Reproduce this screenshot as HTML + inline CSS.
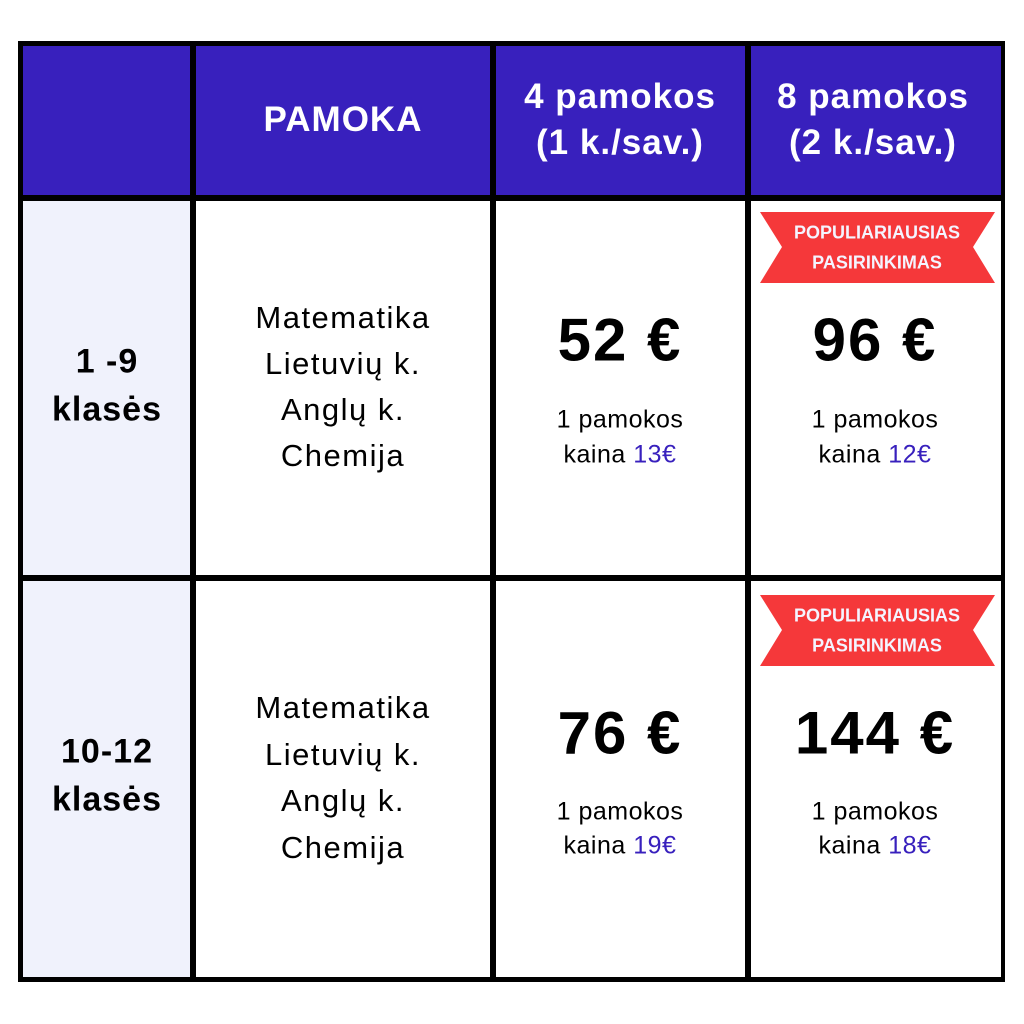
<!DOCTYPE html>
<html><head><meta charset="utf-8"><style>
body{margin:0;width:1024px;height:1024px;background:#fff;position:relative;font-family:"Liberation Sans",sans-serif;overflow:hidden}
.b{position:absolute;background:#000;left:18px;top:41px;width:987px;height:941px}
.c{position:absolute}
.t{position:absolute;text-align:center;white-space:nowrap;transform:translate(-50%,-50%);color:#000}
.h{color:#fff;font-weight:bold;font-size:35px;letter-spacing:1px}
.p{font-weight:bold;font-size:60px;letter-spacing:2px}
.s{font-size:31px;letter-spacing:1.5px}
.k{font-weight:bold;font-size:34px;letter-spacing:1px}
.m{font-size:25px;letter-spacing:0.5px}
.m span{color:#3820BD}
.r{color:#f4f4ff;font-weight:bold;font-size:18px}
</style></head><body>
<div class="b"></div>
<div class="c" style="left:23px;top:46px;width:167px;height:149px;background:#3820BD"></div>
<div class="c" style="left:196px;top:46px;width:294px;height:149px;background:#3820BD"></div>
<div class="c" style="left:496px;top:46px;width:249px;height:149px;background:#3820BD"></div>
<div class="c" style="left:751px;top:46px;width:250px;height:149px;background:#3820BD"></div>
<div class="c" style="left:23px;top:201px;width:167px;height:374px;background:#F0F2FC"></div>
<div class="c" style="left:196px;top:201px;width:294px;height:374px;background:#fff"></div>
<div class="c" style="left:496px;top:201px;width:249px;height:374px;background:#fff"></div>
<div class="c" style="left:751px;top:201px;width:250px;height:374px;background:#fff"></div>
<div class="c" style="left:23px;top:581px;width:167px;height:396px;background:#F0F2FC"></div>
<div class="c" style="left:196px;top:581px;width:294px;height:396px;background:#fff"></div>
<div class="c" style="left:496px;top:581px;width:249px;height:396px;background:#fff"></div>
<div class="c" style="left:751px;top:581px;width:250px;height:396px;background:#fff"></div>
<svg style="position:absolute;left:0;top:0" width="1024" height="1024">
<polygon points="760,212 995,212 973,247 995,283 760,283 782,247" fill="#F5383A"/>
<polygon points="760,595 995,595 973,630 995,666 760,666 782,630" fill="#F5383A"/>
</svg>
<div class="t h" style="left:620px;top:97px">4 pamokos</div>
<div class="t h" style="left:343px;top:120px">PAMOKA</div>
<div class="t h" style="left:620px;top:143px">(1 k./sav.)</div>
<div class="t h" style="left:873px;top:97px">8 pamokos</div>
<div class="t h" style="left:873px;top:143px">(2 k./sav.)</div>

<div class="t k" style="left:107px;top:362px">1 -9</div>
<div class="t k" style="left:107px;top:410px">klasės</div>
<div class="t s" style="left:343px;top:318px">Matematika</div>
<div class="t s" style="left:343px;top:364px">Lietuvių k.</div>
<div class="t s" style="left:343px;top:410px">Anglų k.</div>
<div class="t s" style="left:343px;top:456px">Chemija</div>
<div class="t p" style="left:620px;top:340px">52 €</div>
<div class="t m" style="left:620px;top:420px">1 pamokos</div>
<div class="t m" style="left:620px;top:455px">kaina <span>13€</span></div>
<div class="t r" style="left:877px;top:233px">POPULIARIAUSIAS</div>
<div class="t r" style="left:877px;top:263px">PASIRINKIMAS</div>
<div class="t p" style="left:875px;top:340px">96 €</div>
<div class="t m" style="left:875px;top:420px">1 pamokos</div>
<div class="t m" style="left:875px;top:455px">kaina <span>12€</span></div>

<div class="t k" style="left:107px;top:752px">10-12</div>
<div class="t k" style="left:107px;top:800px">klasės</div>
<div class="t s" style="left:343px;top:708px">Matematika</div>
<div class="t s" style="left:343px;top:755px">Lietuvių k.</div>
<div class="t s" style="left:343px;top:801px">Anglų k.</div>
<div class="t s" style="left:343px;top:848px">Chemija</div>
<div class="t p" style="left:620px;top:733px">76 €</div>
<div class="t m" style="left:620px;top:812px">1 pamokos</div>
<div class="t m" style="left:620px;top:846px">kaina <span>19€</span></div>
<div class="t r" style="left:877px;top:616px">POPULIARIAUSIAS</div>
<div class="t r" style="left:877px;top:646px">PASIRINKIMAS</div>
<div class="t p" style="left:875px;top:733px">144 €</div>
<div class="t m" style="left:875px;top:812px">1 pamokos</div>
<div class="t m" style="left:875px;top:846px">kaina <span>18€</span></div>
</body></html>
